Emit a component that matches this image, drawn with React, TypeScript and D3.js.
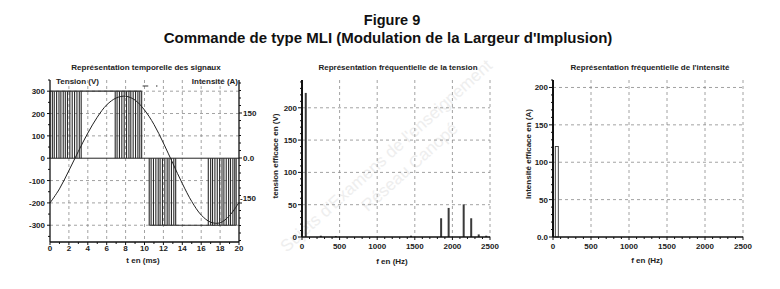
import React from 'react';
import * as d3 from 'd3';

// time axis (ms), voltage (V), current (A)
const tTicks = [0, 2, 4, 6, 8, 10, 12, 14, 16, 18, 20];
const vTicks = [-300, -200, -100, 0, 100, 200, 300];
const aTicks = [-150, 0, 150];
const aTickLabels = ['-150', '0.0', '150'];

// PWM switching instants (ms) in the four chopped zones
const posEdgesA = [0.0, 0.25, 0.45, 0.7, 0.95, 1.15, 1.4, 1.62, 1.85, 2.1, 2.35, 2.6, 2.85, 3.1, 3.3];
const posEdgesB = [6.9, 7.1, 7.35, 7.6, 7.85, 8.1, 8.35, 8.55, 8.8, 9.05, 9.3, 9.5, 9.7];
const negEdgesA = [10.5, 10.7, 10.95, 11.2, 11.45, 11.65, 11.9, 12.15, 12.4, 12.6, 12.85, 13.1, 13.3];
const negEdgesB = [16.75, 17.0, 17.2, 17.45, 17.7, 17.95, 18.2, 18.4, 18.65, 18.9, 19.1, 19.35, 19.55, 19.7];
// level held between the chopped zones
const levels = [
  { t0: 0, t1: 9.7, v: 300 },
  { t0: 10.5, t1: 19.7, v: -300 },
];

// load current read every ms
const currentT = [0, 1, 2, 3, 4, 5, 6, 7, 8, 9, 10, 11, 12, 13, 14, 15, 16, 17, 18, 19, 20];
const currentA = [-150, -103, -42, 22, 83, 136, 177, 200, 206, 193, 160, 112, 50, -18, -85, -145, -190, -214, -216, -192, -148];

// spectra
const fTicks = [0, 500, 1000, 1500, 2000, 2500];
const uTicks = [0, 50, 100, 150, 200];
const iTicks = [0, 50, 100, 150, 200];
const iTickLabels = ['0.0', '50', '100', '150', '200'];

const uFreq = [50, 250, 450, 1450, 1850, 1950, 2150, 2250, 2350, 2450];
const uRms = [223, 2, 1.5, 2, 29, 45, 50.5, 29, 4, 2];
const iFreq = [50];
const iRms = [121];

const FONT = '"Liberation Sans", Arial, sans-serif';
const GRID = { stroke: '#8a8a8a', strokeWidth: 0.8, strokeDasharray: '3,3' };

const App = () => {
  const x1 = d3.scaleLinear().domain([0, 20]).range([50, 239]);
  const yV = d3.scaleLinear().domain([-375, 350]).range([242, 80]);
  const yA = d3.scaleLinear().domain([-280, 260]).range([242, 80]);

  const x2 = d3.scaleLinear().domain([0, 2500]).range([302, 490]);
  const yU = d3.scaleLinear().domain([0, 243]).range([237, 80]);

  const x3 = d3.scaleLinear().domain([0, 2500]).range([553, 743]);
  const yI = d3.scaleLinear().domain([0, 210]).range([237, 80]);

  const curLine = d3.line<number>()
    .x((d, i) => x1(currentT[i]))
    .y(d => yA(d))
    .curve(d3.curveCatmullRom);

  const edges = [
    ...posEdgesA.map(t => ({ t, v: 300 })),
    ...posEdgesB.map(t => ({ t, v: 300 })),
    ...negEdgesA.map(t => ({ t, v: -300 })),
    ...negEdgesB.map(t => ({ t, v: -300 })),
  ];

  const tickText = { fontSize: 8, fontWeight: 700, fill: '#222', fontFamily: FONT } as any;

  return (
    <svg width={780} height={289} style={{ position: 'absolute', left: 0, top: 0, background: '#fff' }}>
      {/* watermark */}
      <g fill="#eeeeee" fontFamily={FONT} fontSize={17} transform="translate(390,160) rotate(-42)">
        <text x={0} y={0} textAnchor="middle">Sujets d'Examens de l'enseignement</text>
        <text x={10} y={24} textAnchor="middle">Réseau Canopé</text>
      </g>

      <text x={392} y={25} textAnchor="middle" fontFamily={FONT} fontWeight={700} fontSize={14.5} fill="#111">Figure 9</text>
      <text x={388} y={43} textAnchor="middle" fontFamily={FONT} fontWeight={700} fontSize={15} fill="#111">
        Commande de type MLI (Modulation de la Largeur d'Implusion)
      </text>

      {/* ---- temporal chart ---- */}
      <text x={146} y={70} textAnchor="middle" {...tickText}>Représentation temporelle des signaux</text>
      <text x={56} y={84} {...tickText}>Tension (V)</text>
      <text x={238} y={84} textAnchor="end" {...tickText}>Intensité (A)</text>
      {tTicks.filter(t => t > 0 && t < 20).map(t => (
        <line key={'gx' + t} x1={x1(t)} x2={x1(t)} y1={80} y2={242} {...GRID} />
      ))}
      {vTicks.filter(v => v !== 0).map(v => (
        <line key={'gy' + v} x1={50} x2={239} y1={yV(v)} y2={yV(v)} {...GRID} />
      ))}
      <line x1={50} x2={239} y1={yV(0)} y2={yV(0)} stroke="#222" strokeWidth={1} />
      {edges.map((e, i) => (
        <line key={'e' + i} x1={x1(e.t)} x2={x1(e.t)} y1={yV(0)} y2={yV(e.v)} stroke="#2a2a2a" strokeWidth={1.1} />
      ))}
      {levels.map((l, i) => (
        <line key={'l' + i} x1={x1(l.t0)} x2={x1(l.t1)} y1={yV(l.v)} y2={yV(l.v)} stroke="#2a2a2a" strokeWidth={1.1} />
      ))}
      <path d={curLine(currentA) || ''} fill="none" stroke="#222" strokeWidth={1} />
      <line x1={x1(9.8)} x2={x1(10.4)} y1={86} y2={86} stroke="#333" strokeWidth={1} />
      <circle cx={x1(11.3)} cy={86} r={0.7} fill="#333" />
      {/* axes */}
      <line x1={50} x2={50} y1={80} y2={242} stroke="#111" strokeWidth={1.3} />
      <line x1={239} x2={239} y1={80} y2={242} stroke="#111" strokeWidth={1.3} />
      <line x1={50} x2={239} y1={242} y2={242} stroke="#111" strokeWidth={1.3} />
      {d3.range(0, 21, 1).map(t => (
        <line key={'tx' + t} x1={x1(t)} x2={x1(t)} y1={242} y2={t % 2 === 0 ? 245 : 244} stroke="#111" />
      ))}
      {tTicks.map(t => (
        <text key={'lx' + t} x={x1(t)} y={251} textAnchor="middle" {...tickText}>{t}</text>
      ))}
      {d3.range(-350, 351, 50).map(v => (
        <line key={'ty' + v} x1={50} x2={v % 100 === 0 ? 47 : 48} y1={yV(v)} y2={yV(v)} stroke="#111" />
      ))}
      {vTicks.map(v => (
        <text key={'ly' + v} x={45} y={yV(v) + 3} textAnchor="end" {...tickText}>{v}</text>
      ))}
      {d3.range(-275, 251, 25).map(a => (
        <line key={'ta' + a} x1={239} x2={a % 150 === 0 ? 242 : 241} y1={yA(a)} y2={yA(a)} stroke="#111" />
      ))}
      {aTicks.map((a, i) => (
        <text key={'la' + a} x={a < 0 ? 240 : 243} y={yA(a) + (a < 0 ? -2 : 3)} {...tickText}>{aTickLabels[i]}</text>
      ))}
      <text x={143} y={263} textAnchor="middle" {...tickText}>t en (ms)</text>

      {/* ---- voltage spectrum ---- */}
      <text x={398} y={70} textAnchor="middle" {...tickText}>Représentation fréquentielle de la tension</text>
      {fTicks.filter(f => f > 0).map(f => (
        <line key={'g2x' + f} x1={x2(f)} x2={x2(f)} y1={80} y2={237} {...GRID} />
      ))}
      {uTicks.filter(u => u > 0).map(u => (
        <line key={'g2y' + u} x1={302} x2={490} y1={yU(u)} y2={yU(u)} {...GRID} />
      ))}
      {uFreq.map((f, i) => (
        <rect key={'b2' + i} x={x2(f) - 1} y={yU(uRms[i])} width={2} height={yU(0) - yU(uRms[i])} fill="#3a3a3a" />
      ))}
      <line x1={302} x2={302} y1={80} y2={237} stroke="#111" strokeWidth={2} />
      <line x1={302} x2={490} y1={237} y2={237} stroke="#111" strokeWidth={1.5} />
      {d3.range(0, 2501, 100).map(f => (
        <line key={'t2x' + f} x1={x2(f)} x2={x2(f)} y1={237} y2={f % 500 === 0 ? 240 : 239} stroke="#111" />
      ))}
      {fTicks.map(f => (
        <text key={'l2x' + f} x={x2(f)} y={249} textAnchor="middle" {...tickText}>{f}</text>
      ))}
      {d3.range(0, 241, 10).map(u => (
        <line key={'t2y' + u} x1={302} x2={u % 50 === 0 ? 298 : 300} y1={yU(u)} y2={yU(u)} stroke="#111" />
      ))}
      {uTicks.map(u => (
        <text key={'l2y' + u} x={297} y={yU(u) + 3} textAnchor="end" {...tickText}>{u}</text>
      ))}
      <text x={392} y={264} textAnchor="middle" {...tickText}>f en (Hz)</text>
      <text transform="translate(278,156) rotate(-90)" textAnchor="middle" {...tickText}>tension efficace en (V)</text>

      {/* ---- current spectrum ---- */}
      <text x={650} y={70} textAnchor="middle" {...tickText}>Représentation fréquentielle de l'intensité</text>
      {fTicks.filter(f => f > 0).map(f => (
        <line key={'g3x' + f} x1={x3(f)} x2={x3(f)} y1={80} y2={237} {...GRID} />
      ))}
      {iTicks.filter(v => v > 0).map(v => (
        <line key={'g3y' + v} x1={553} x2={743} y1={yI(v)} y2={yI(v)} {...GRID} />
      ))}
      {iFreq.map((f, i) => (
        <rect key={'b3' + i} x={x3(f) - 1.5} y={yI(iRms[i])} width={3} height={yI(0) - yI(iRms[i])} fill="#fff" stroke="#333" strokeWidth={0.9} />
      ))}
      <line x1={553} x2={553} y1={80} y2={237} stroke="#111" strokeWidth={2} />
      <line x1={553} x2={743} y1={237} y2={237} stroke="#111" strokeWidth={1.5} />
      {d3.range(0, 2501, 100).map(f => (
        <line key={'t3x' + f} x1={x3(f)} x2={x3(f)} y1={237} y2={f % 500 === 0 ? 240 : 239} stroke="#111" />
      ))}
      {fTicks.map(f => (
        <text key={'l3x' + f} x={x3(f)} y={249} textAnchor="middle" {...tickText}>{f}</text>
      ))}
      {d3.range(0, 211, 10).map(v => (
        <line key={'t3y' + v} x1={553} x2={v % 50 === 0 ? 549 : 551} y1={yI(v)} y2={yI(v)} stroke="#111" />
      ))}
      {iTicks.map((v, i) => (
        <text key={'l3y' + v} x={548} y={yI(v) + 3} textAnchor="end" {...tickText}>{iTickLabels[i]}</text>
      ))}
      <text x={647} y={263} textAnchor="middle" {...tickText}>f en (Hz)</text>
      <text transform="translate(531,154) rotate(-90)" textAnchor="middle" {...tickText}>Intensité efficace en (A)</text>
    </svg>
  );
};

export default App;
